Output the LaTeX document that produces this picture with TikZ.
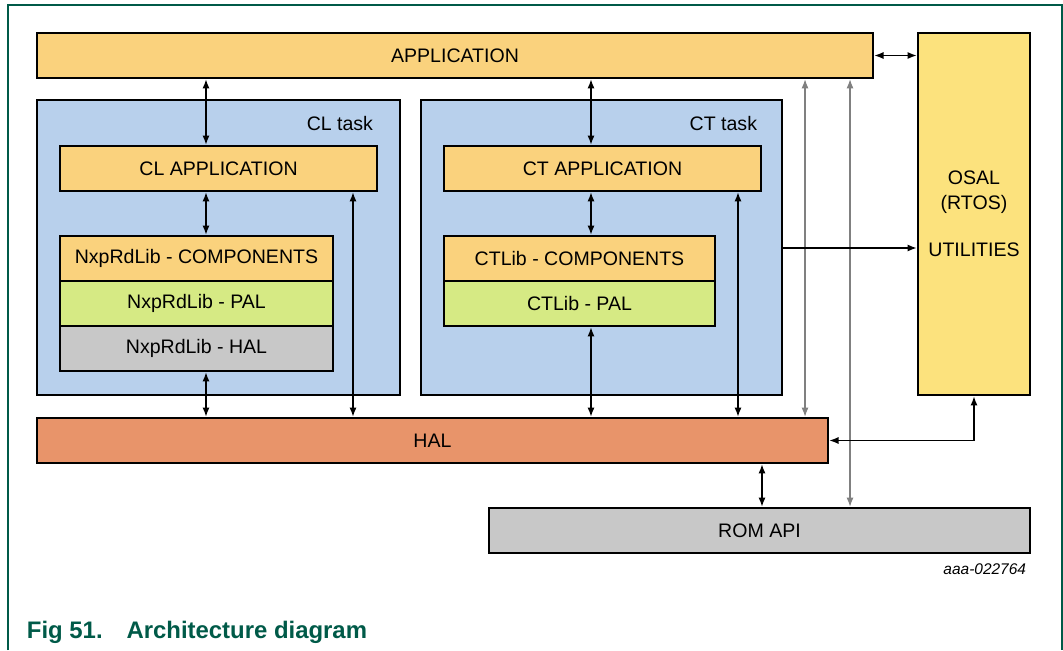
\documentclass[tikz,border=0pt]{standalone}
\usepackage{fontspec}
\setmainfont{Liberation Sans}
\usepackage{tikz}
\usetikzlibrary{
  arrows.meta,
  positioning,
  calc
}
\definecolor{archorange}{RGB}{250,210,125}
\definecolor{archblue}{RGB}{184,208,236}
\definecolor{archgreen}{RGB}{214,234,132}
\definecolor{archgray}{RGB}{200,200,200}
\definecolor{archhal}{RGB}{232,148,106}
\definecolor{archyellow}{RGB}{252,226,125}
\definecolor{archframe}{RGB}{0,90,72}
\newcommand{\archfont}{\fontsize{13.9}{17.8}\selectfont}
\tikzset{
  layer/.style={
    rectangle, draw=black, line width=1.8pt, fill=archorange,
    minimum height=1.125cm, inner sep=0pt, align=center,
    text centered, font=\archfont
  },
  layerG/.style={
    layer, fill=archgreen
  },
  layerS/.style={
    layer, fill=archgray
  },
  layerH/.style={
    layer, fill=archhal
  },
  layerY/.style={
    layer, fill=archyellow
  },
  taskbox/.style={
    rectangle, draw=black, line width=1.8pt, fill=archblue,
    inner sep=0pt
  },
  tasklabel/.style={anchor=east, font=\archfont},
  arrowD/.style={{Latex[length=6.5pt,width=5pt]}-{Latex[length=6.5pt,width=5pt]}, line width=0.9pt},
  arrowS/.style={-{Latex[length=6.5pt,width=5pt]}, line width=0.9pt},
  arrowL/.style={arrowD, line width=0.8pt, draw=black!50}
}
\begin{document}
\begin{tikzpicture}[x=0.025cm, y=-0.025cm]
  \useasboundingbox (0,0) rectangle (1063,650);
  % Frame
  \draw[archframe, line width=1.1pt] (8,650) -- (8,5) -- (1062,5) -- (1062,650);
  % Top level
  \node[layer, minimum width=20.9cm] (app) at (455,55.5) {APPLICATION};
  \node[layerY, minimum width=2.8cm, minimum height=9.05cm] (osal) at (974,214)
    {OSAL\\(RTOS)\\[0.55cm]UTILITIES};
  % CL task
  \node[taskbox, minimum width=9.075cm, minimum height=7.375cm] (cl_task) at (218.5,247.5) {};
  \node[tasklabel] (cl_lbl) at (378,124) {CL task};
  \node[layer, minimum width=7.925cm] (cl_app) at (218.5,168.5) {CL APPLICATION};
  \node[layer, minimum width=6.825cm] (nxp_comp) at (196.5,258.5) {NxpRdLib - COMPONENTS};
  \node[layerG, minimum width=6.825cm, below=-1.8pt of nxp_comp] (nxp_pal) {NxpRdLib - PAL};
  \node[layerS, minimum width=6.825cm, below=-1.8pt of nxp_pal] (nxp_hal) {NxpRdLib - HAL};
  % CT task
  \node[taskbox, minimum width=9.025cm, minimum height=7.375cm] (ct_task) at (601.5,247.5) {};
  \node[tasklabel] (ct_lbl) at (762,124) {CT task};
  \node[layer, minimum width=7.925cm] (ct_app) at (602.5,168.5) {CT APPLICATION};
  \node[layer, minimum width=6.775cm] (ct_comp) at (579.5,258.5) {CTLib - COMPONENTS};
  \node[layerG, minimum width=6.775cm, below=-1.8pt of ct_comp] (ct_pal) {CTLib - PAL};
  % Bottom level
  \node[layerH, minimum width=19.775cm] (hal) at (432.5,440.5) {HAL};
  \node[layerS, minimum width=13.525cm] (rom) at (759.5,530.5) {ROM API};
  % Arrow columns
  \coordinate (xa) at (206,0);
  \coordinate (xb) at (353,0);
  \coordinate (xc) at (591,0);
  \coordinate (xd) at (738,0);
  \coordinate (xe) at (805,0);
  \coordinate (xf) at (850,0);
  \coordinate (xg) at (762,0);
  \coordinate (yh) at (0,248);
  % CL side
  \draw[arrowD] (app.south -| xa) -- (cl_app.north -| xa);
  \draw[arrowD] (cl_app.south -| xa) -- (nxp_comp.north -| xa);
  \draw[arrowD] (nxp_hal.south -| xa) -- (hal.north -| xa);
  \draw[arrowD] (cl_app.south -| xb) -- (hal.north -| xb);
  % CT side
  \draw[arrowD] (app.south -| xc) -- (ct_app.north -| xc);
  \draw[arrowD] (ct_app.south -| xc) -- (ct_comp.north -| xc);
  \draw[arrowD] (ct_pal.south -| xc) -- (hal.north -| xc);
  \draw[arrowD] (ct_app.south -| xd) -- (hal.north -| xd);
  % Long links
  \draw[arrowL] (app.south -| xe) -- (hal.north -| xe);
  \draw[arrowL] (app.south -| xf) -- (rom.north -| xf);
  \draw[arrowD] (hal.south -| xg) -- (rom.north -| xg);
  % OSAL links
  \draw[arrowD] (app.east) -- (app.east -| osal.west);
  \draw[arrowS] (ct_task.east |- yh) -- (osal.west |- yh);
  \draw[arrowD] (hal.east) -| (osal.south);
  % Labels
  \node[anchor=east, font=\fontsize{11}{13}\selectfont\itshape] (figcode) at (1031,569) {aaa-022764};
  \node[anchor=west, font=\fontsize{17}{20}\selectfont\bfseries, text=archframe] (caption)
    at (22,632) {Fig 51.\quad Architecture diagram};
\end{tikzpicture}
\end{document}
